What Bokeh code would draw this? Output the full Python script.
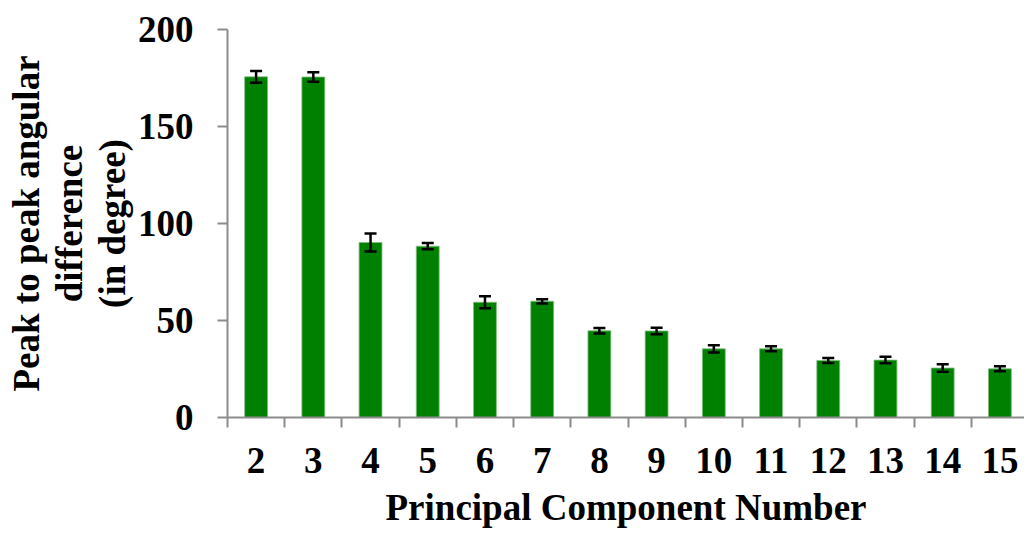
from bokeh.plotting import figure
from bokeh.models import ColumnDataSource, Whisker, FixedTicker, TeeHead
from bokeh.embed import file_html
from bokeh.resources import INLINE

# Peak-to-peak angular difference for each principal component
components = [2, 3, 4, 5, 6, 7, 8, 9, 10, 11, 12, 13, 14, 15]
angular_diff = [175.6, 175.5, 90.2, 88.3, 59.4, 59.9, 44.7, 44.6, 35.4, 35.4, 29.4, 29.6, 25.5, 25.1]
error = [3.0, 2.4, 4.6, 1.6, 3.1, 1.1, 1.4, 1.7, 1.9, 1.3, 1.3, 1.7, 1.9, 1.3]
y_ticks = [0, 50, 100, 150, 200]
tick_labels = [str(c) for c in components]

source = ColumnDataSource(data=dict(
    x=components,
    top=angular_diff,
    upper=[v + e for v, e in zip(angular_diff, error)],
    lower=[v - e for v, e in zip(angular_diff, error)],
))

FONT = "Liberation Serif"
GREY = "#8c8c8c"

p = figure(
    width=1024, height=533,
    x_range=(1.5, 15.43), y_range=(0, 200),
    output_backend="svg", toolbar_location=None,
    min_border_left=227, min_border_right=0,
    min_border_top=29, min_border_bottom=116,
)
p.outline_line_color = None
p.xgrid.visible = False
p.ygrid.visible = False
p.background_fill_color = "white"
p.border_fill_color = "white"

p.vbar(x="x", top="top", width=0.4, bottom=0, source=source,
       fill_color="#008000", line_color="#7fbf7f", line_width=0.8)

# error bars drawn on top of the bars
whisker = Whisker(source=source, base="x", upper="upper", lower="lower",
                  line_color="black", line_width=2.5, level="overlay")
whisker.upper_head = TeeHead(size=12, line_color="black", line_width=2.5)
whisker.lower_head = TeeHead(size=12, line_color="black", line_width=2.5)
p.add_layout(whisker)

# x axis: labels at bar centres, tick marks between categories
xa = p.xaxis[0]
xa.ticker = FixedTicker(ticks=components,
                        minor_ticks=[c - 0.5 for c in components])
xa.major_label_overrides = {c: t for c, t in zip(components, tick_labels)}
xa.major_tick_out = 0
xa.major_tick_in = 0
xa.minor_tick_out = 10
xa.minor_tick_in = 0
xa.minor_tick_line_color = GREY
xa.minor_tick_line_width = 2
xa.axis_line_color = GREY
xa.axis_line_width = 2
xa.major_label_text_font = FONT
xa.major_label_text_font_style = "bold"
xa.major_label_text_font_size = "37px"
xa.major_label_text_color = "black"
xa.major_label_standoff = 20
xa.axis_label = "Principal Component Number"
xa.axis_label_text_font = FONT
xa.axis_label_text_font_style = "bold"
xa.axis_label_text_font_size = "37px"
xa.axis_label_text_color = "black"
xa.axis_label_standoff = 11

ya = p.yaxis[0]
ya.ticker = FixedTicker(ticks=y_ticks)
ya.major_tick_out = 10
ya.major_tick_in = 0
ya.minor_tick_out = 0
ya.minor_tick_in = 0
ya.major_tick_line_color = GREY
ya.major_tick_line_width = 2
ya.axis_line_color = GREY
ya.axis_line_width = 2
ya.major_label_text_font = FONT
ya.major_label_text_font_style = "bold"
ya.major_label_text_font_size = "37px"
ya.major_label_text_color = "black"
ya.major_label_standoff = 24
ya.axis_label = "Peak to peak angular\ndifference\n(in degree)"
ya.axis_label_text_font = FONT
ya.axis_label_text_font_style = "bold"
ya.axis_label_text_font_size = "37px"
ya.axis_label_text_color = "black"
ya.axis_label_text_line_height = 1.05
ya.axis_label_standoff = 2

open("out.html", "w").write(file_html(p, INLINE))
